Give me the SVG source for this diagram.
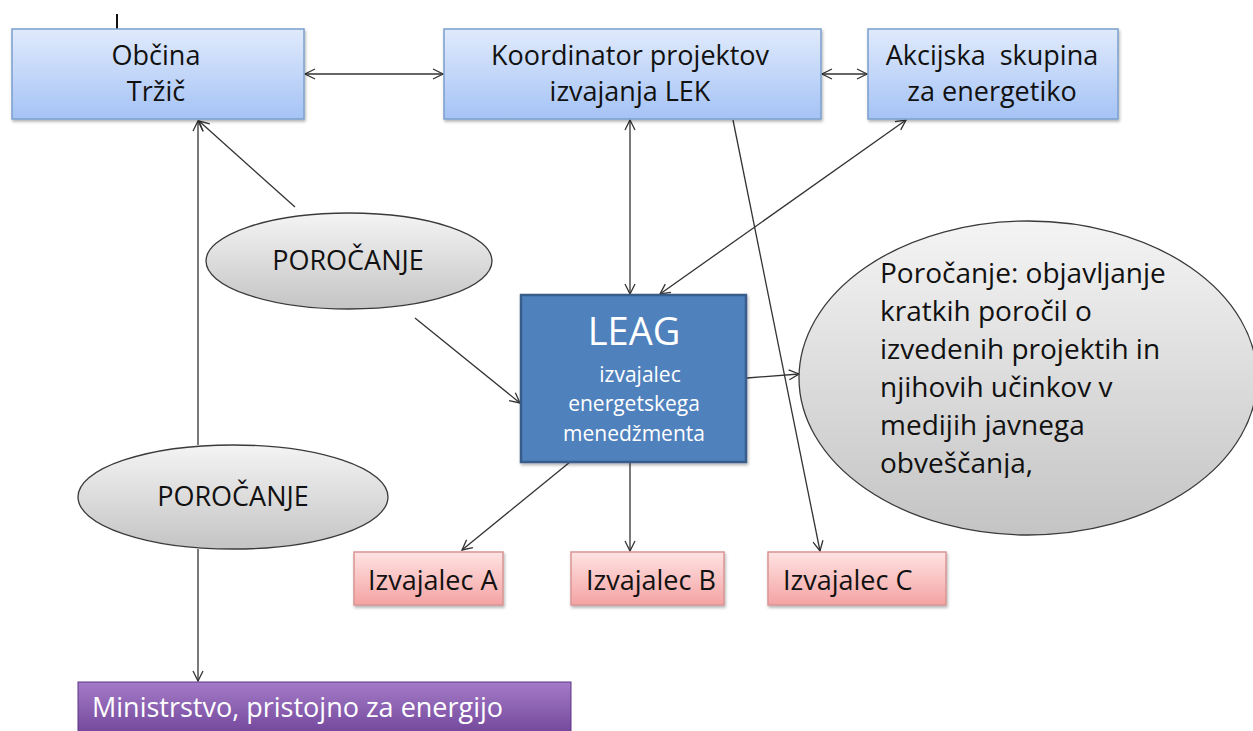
<svg xmlns="http://www.w3.org/2000/svg" width="1253" height="731" viewBox="0 0 1253 731">
<style>
.t{font-family:"Open Sans","Noto Sans",sans-serif;font-size:27px;fill:#111;}
.tc{text-anchor:middle;}
.w{fill:#fff;}
.blue{fill:url(#gBlue);stroke:#7BA0CD;stroke-width:1.5;}
.pink{fill:url(#gPink);stroke:#D99594;stroke-width:1.5;}
.grey{fill:url(#gGrey);stroke:#3a3a3a;stroke-width:1.3;}
.c{stroke:#333;stroke-width:1.3;fill:none;marker-end:url(#ah);}
.cb{marker-start:url(#ahs);}
.big{font-size:28px;}
.sub{font-size:21px;}
</style>
<defs>
<linearGradient id="gBlue" x1="0" y1="0" x2="0" y2="1"><stop offset="0" stop-color="#E0EAFC"/><stop offset="1" stop-color="#A5C3F5"/></linearGradient>
<linearGradient id="gPink" x1="0" y1="0" x2="0" y2="1"><stop offset="0" stop-color="#FFE3E3"/><stop offset="1" stop-color="#F4A3A3"/></linearGradient>
<linearGradient id="gGrey" x1="0" y1="0" x2="0" y2="1"><stop offset="0" stop-color="#F4F4F4"/><stop offset="1" stop-color="#C4C4C4"/></linearGradient>
<linearGradient id="gPurple" x1="0" y1="0" x2="0" y2="1"><stop offset="0" stop-color="#A47BC8"/><stop offset="1" stop-color="#6B3F94"/></linearGradient>
<filter id="sh" x="-5%" y="-5%" width="112%" height="120%"><feDropShadow dx="1" dy="2" stdDeviation="1.5" flood-color="#000" flood-opacity="0.3"/></filter>
<clipPath id="clipTxt"><rect x="800" y="220" width="453" height="258"/></clipPath>
<marker id="ah" viewBox="0 0 12 12" refX="11" refY="6" markerWidth="12" markerHeight="12" markerUnits="userSpaceOnUse" orient="auto"><path d="M1,1 L11,6 L1,11" fill="none" stroke="#333" stroke-width="1.3"/></marker>
<marker id="ahs" viewBox="0 0 12 12" refX="1" refY="6" markerWidth="12" markerHeight="12" markerUnits="userSpaceOnUse" orient="auto"><path d="M11,1 L1,6 L11,11" fill="none" stroke="#333" stroke-width="1.3"/></marker>
</defs>
<rect width="1253" height="731" fill="#fff"/>
<line x1="117" y1="14" x2="117" y2="36" stroke="#111" stroke-width="2"/>
<g id="connectors">
<path class="c cb" d="M305,74 L443,74"/>
<path class="c cb" d="M822,74 L867,74"/>
<path class="c cb" d="M630,120 L630,294"/>
<path class="c cb" d="M906,120 L660,294"/>
<path class="c" d="M733,120 L820,551"/>
<path class="c" d="M198,445 L198,121"/>
<path class="c" d="M295,207 L199,121"/>
<path class="c" d="M198,549 L198,681"/>
<path class="c" d="M415,318 L520,403"/>
<path class="c" d="M747,378 L799,374"/>
<path class="c" d="M570,462 L462,550"/>
<path class="c" d="M630,463 L630,551"/>
</g>
<g id="obcina"><rect class="blue" x="12" y="29" width="292" height="90" filter="url(#sh)"/><text class="t tc" x="156" y="65">Občina</text><text class="t tc" x="156" y="101">Tržič</text></g>
<g id="koordinator"><rect class="blue" x="444" y="29" width="377" height="90" filter="url(#sh)"/><text class="t tc" x="630" y="65">Koordinator projektov</text><text class="t tc" x="630" y="101">izvajanja LEK</text></g>
<g id="akcijska"><rect class="blue" x="868" y="29" width="250" height="90" filter="url(#sh)"/><text class="t tc" x="992" y="65" xml:space="preserve">Akcijska  skupina</text><text class="t tc" x="992" y="101">za energetiko</text></g>
<g id="leag"><rect x="521" y="295" width="225" height="167" fill="#4F81BD" stroke="#385D8A" stroke-width="2.5" filter="url(#sh)"/><text class="t tc w" x="634" y="345" style="font-size:38px">LEAG</text><text class="t tc w sub" x="640" y="382">izvajalec</text><text class="t tc w sub" x="634" y="411">energetskega</text><text class="t tc w sub" x="634" y="441">menedžmenta</text></g>
<g id="porocanje1"><ellipse class="grey" cx="349" cy="261" rx="143" ry="48"/><text class="t tc" x="348" y="270">POROČANJE</text></g>
<g id="porocanje2"><ellipse class="grey" cx="233" cy="497" rx="155" ry="52"/><text class="t tc" x="233" y="506">POROČANJE</text></g>
<g id="porocanje3"><ellipse class="grey" cx="1028" cy="378" rx="229" ry="157"/><g clip-path="url(#clipTxt)"><text class="t big" x="880" y="283">Poročanje: objavljanje</text><text class="t big" x="880" y="321">kratkih poročil o</text><text class="t big" x="880" y="359">izvedenih projektih in</text><text class="t big" x="880" y="397">njihovih učinkov v</text><text class="t big" x="880" y="435">medijih javnega</text><text class="t big" x="880" y="473">obveščanja,</text></g></g>
<g id="izvA"><rect class="pink" x="354" y="552" width="149" height="53" filter="url(#sh)"/><text class="t" x="368" y="590">Izvajalec A</text></g>
<g id="izvB"><rect class="pink" x="571" y="552" width="153" height="53" filter="url(#sh)"/><text class="t" x="586" y="590">Izvajalec B</text></g>
<g id="izvC"><rect class="pink" x="768" y="552" width="178" height="53" filter="url(#sh)"/><text class="t" x="783" y="590">Izvajalec C</text></g>
<g id="ministrstvo"><rect x="78" y="682" width="493" height="60" fill="url(#gPurple)" stroke="#5E3587" stroke-width="1"/><text class="t w" x="92" y="717" style="font-size:27px">Ministrstvo, pristojno za energijo</text></g>
</svg>
